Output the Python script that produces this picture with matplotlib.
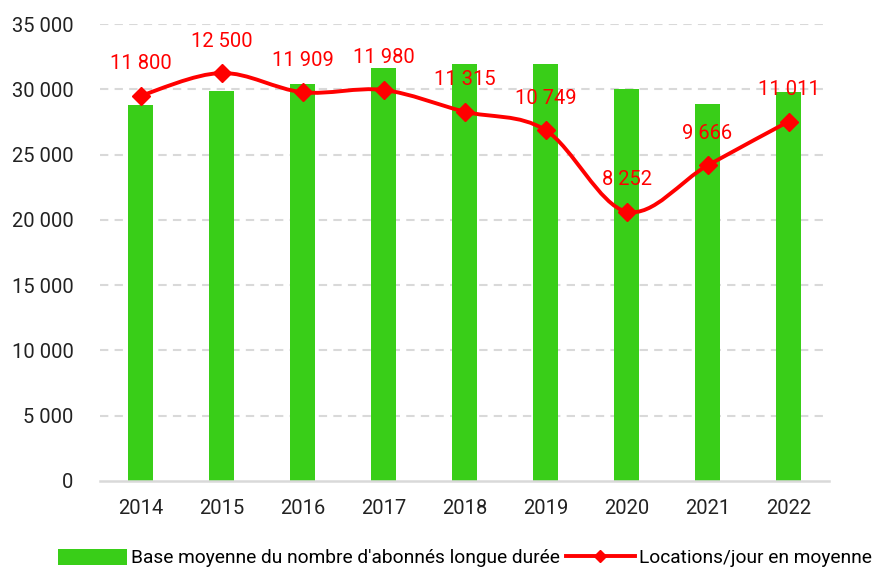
import matplotlib
matplotlib.use('Agg')
import numpy as np
import matplotlib.pyplot as plt
from matplotlib.path import Path
from matplotlib.patches import PathPatch
from matplotlib.lines import Line2D
from matplotlib.patches import Patch

plt.rcParams['font.family'] = ['Roboto', 'DejaVu Sans']

# Data
years = ['2014', '2015', '2016', '2017', '2018', '2019', '2020', '2021', '2022']
abonnes = [28800, 29900, 30400, 31600, 31900, 31900, 30000, 28900, 29800]
locations = [11800, 12500, 11909, 11980, 11315, 10749, 8252, 9666, 11011]

BAR_COLOR = '#39CE18'
LINE_COLOR = '#FF0000'
GRID_COLOR = '#D9D9D9'
FONT_SIZE = 14.5
LEGEND_SIZE = 13.8


def fmt_fr(v):
    return f'{v:,.0f}'.replace(',', ' ')


def smooth_path(x, y, tension=1/6):
    """Catmull-Rom style bezier path through the points"""
    pts = np.column_stack([x, y]).astype(float)
    verts = [pts[0]]
    codes = [Path.MOVETO]
    n = len(pts)
    for i in range(n - 1):
        p0 = pts[i - 1] if i > 0 else pts[i]
        p1 = pts[i]
        p2 = pts[i + 1]
        p3 = pts[i + 2] if i + 2 < n else pts[i + 1]
        c1 = p1 + (p2 - p0) * tension
        c2 = p2 - (p3 - p1) * tension
        verts += [c1, c2, p2]
        codes += [Path.CURVE4] * 3
    return Path(verts, codes)


fig = plt.figure(figsize=(8.81, 5.70), dpi=100)
ax = fig.add_axes([100 / 881, 1 - 481 / 570, 729 / 881, 457 / 570])

x = np.arange(len(years))
ax.bar(x, abonnes, width=0.31, color=BAR_COLOR, zorder=2)

ax.set_xlim(-0.5, len(years) - 0.5)
ax.set_ylim(0, 35000)
ax.set_yticks(np.arange(0, 35001, 5000))
ax.set_yticklabels([fmt_fr(v) for v in np.arange(0, 35001, 5000)])
ax.set_xticks(x)
ax.set_xticklabels(years)
ax.tick_params(axis='both', length=0, labelsize=FONT_SIZE, colors='#222222')
ax.tick_params(axis='y', pad=19)
ax.tick_params(axis='x', pad=13)

for v in np.arange(5000, 35001, 5000):
    ax.axhline(v, color=GRID_COLOR, linestyle=(0, (4, 3)), linewidth=1.5, zorder=1)
for side in ['top', 'right', 'left']:
    ax.spines[side].set_visible(False)
ax.spines['bottom'].set_color(GRID_COLOR)
ax.spines['bottom'].set_linewidth(1.8)

# Secondary axis for daily rentals
ax2 = ax.twinx()
ax2.set_ylim(0, 14000)
ax2.axis('off')
ax2.add_patch(PathPatch(smooth_path(x, locations), facecolor='none',
                        edgecolor=LINE_COLOR, linewidth=2.8, zorder=3))
ax2.plot(x, locations, linestyle='none', marker='D', markersize=9,
         color=LINE_COLOR, zorder=4)
for xi, v in zip(x, locations):
    ax2.annotate(fmt_fr(v), (xi, v), xytext=(0, 23), textcoords='offset points',
                 ha='center', va='center', color=LINE_COLOR, fontsize=FONT_SIZE)

handles = [Patch(facecolor=BAR_COLOR, edgecolor='none'),
           Line2D([0], [0], color=LINE_COLOR, linewidth=2.8, marker='D', markersize=6)]
labels = ["Base moyenne du nombre d'abonnés longue durée", 'Locations/jour en moyenne']
fig.legend(handles, labels, loc='center', bbox_to_anchor=(465 / 881, 1 - 558 / 570),
           ncol=2, frameon=False, fontsize=LEGEND_SIZE, handlelength=3.6,
           handleheight=0.9, handletextpad=0.2, columnspacing=0.3,
           borderpad=0, borderaxespad=0)

fig.savefig('out.png', dpi=100)
